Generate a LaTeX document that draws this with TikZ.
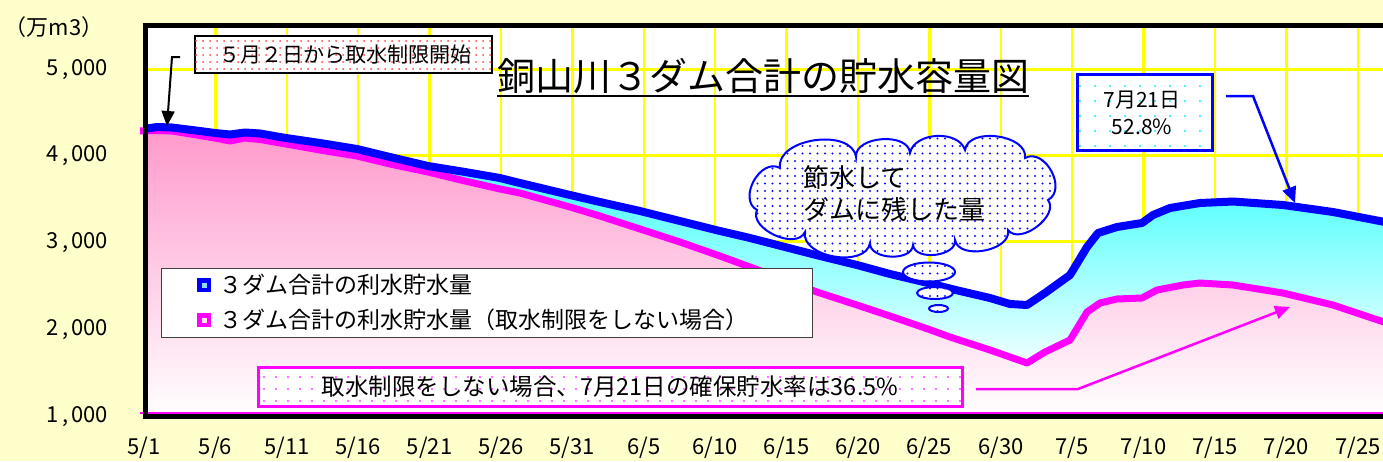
\documentclass[tikz,border=0pt]{standalone}
\usepackage{fontspec}
\setmainfont{Noto Sans CJK JP}
\usetikzlibrary{arrows.meta,patterns.meta,shapes.geometric}
\definecolor{bgyellow}{HTML}{FFFFCC}
\definecolor{gridyellow}{HTML}{FFFF00}
\definecolor{cyanfill}{HTML}{5EFFFF}
\definecolor{pinkfill}{HTML}{FF99CC}
\definecolor{serblue}{HTML}{0000FF}
\definecolor{sermag}{HTML}{FF00FF}
\definecolor{dotred}{HTML}{FF4444}
\definecolor{dotcyan}{HTML}{11EEFF}
\definecolor{dotmag}{HTML}{FF44FF}
\definecolor{dotblue}{HTML}{1111EE}
\begin{document}
\begin{tikzpicture}[x=1pt,y=-1pt,
  axislbl/.style={font=\fontsize{22}{26}\selectfont, inner sep=0pt},
  gridln/.style={draw=gridyellow, line width=2.5pt},
  bluecurve/.style={draw=serblue, line width=8pt, line join=round},
  magcurve/.style={draw=sermag, line width=7pt, line join=round},
  titletext/.style={font=\fontsize{38}{44}\selectfont, inner sep=0pt},
  boxtext/.style={font=\fontsize{21}{27}\selectfont, inner sep=0pt, align=center},
  legtext/.style={font=\fontsize{23}{27}\selectfont, inner sep=0pt},
  startbox/.style={draw=black, line width=2.5pt, fill=white, inner sep=0pt,
    postaction={pattern={Dots[distance=7pt,radius=1pt]}, pattern color=dotred}},
  datebox/.style={draw=serblue, line width=3pt, fill=white, inner sep=0pt,
    postaction={pattern={Dots[distance=15pt,radius=1.2pt]}, pattern color=dotcyan}},
  ratebox/.style={draw=sermag, line width=3pt, fill=white, inner sep=0pt,
    postaction={pattern={Dots[distance=12pt,radius=1.1pt]}, pattern color=dotmag}},
  bubble/.style={draw=serblue, line width=2pt, fill=white, inner sep=0pt,
    postaction={pattern={Dots[distance=7.5pt,radius=1.15pt]}, pattern color=dotblue}},
  puff/.style={bend left=90},
  marker/.style={minimum size=14pt, inner sep=0pt},
  markerin/.style={minimum size=5pt, inner sep=0pt},
  leader/.style={line width=2.5pt}
]
% background
\fill[bgyellow] (0,0) rectangle (1383,461);
\useasboundingbox (0,0) rectangle (1383,461);
% plot area
\fill[white] (145,25.8) rectangle (1390,416.7);
\foreach \k in {1,...,17} \draw[gridln] ({144+71.4*\k},28) -- ({144+71.4*\k},414);
\foreach \yy in {69.5,155.5,241.5,327.5} \draw[gridln] (148,\yy) -- (1390,\yy);

% series areas
\def\bluepts{(144,129) (157,127) (172,127.5) (200,131) (215,133) (230,134.5) (245,132.5) (260,133.5) (286,138) (320,143) (357,149) (390,157) (428,166) (465,172) (500,178) (520,183) (570,195) (600,202) (640,211) (680,221) (720,231) (750,238) (785,247) (820,256) (857,265) (890,274) (928,283) (960,291) (990,298) (1010,304) (1027,305) (1045,293) (1070,275) (1087,247) (1098,233) (1117,227) (1142,223) (1153,215) (1170,208) (1200,203) (1233,201.5) (1283,205) (1333,212) (1390,223)}
\def\magpts{(140,131) (157,130.5) (172,131) (200,135.5) (215,138) (230,141) (245,138) (260,139.5) (286,144) (320,150) (357,156) (390,164) (428,172) (465,181) (500,189) (520,193) (570,207) (600,216) (640,229) (680,242) (720,256) (750,267) (785,280) (817,292) (857,305) (890,316) (928,329) (950,337) (990,350) (1010,357) (1027,363) (1045,352) (1070,340) (1087,312) (1100,303) (1117,299) (1142,298) (1157,290) (1183,285) (1200,283) (1233,285) (1283,293) (1333,305) (1390,324)}
\begin{scope}
  \clip (148,28) rectangle (1390,414);
  \begin{scope}
    \clip (144,416) -- plot coordinates {\bluepts} -- (1390,416) -- cycle;
    \shade[top color=cyanfill, bottom color=white] (140,200) rectangle (1390,380);
    \fill[cyanfill] (140,100) rectangle (1390,200.5);
  \end{scope}
  \begin{scope}
    \clip (140,416) -- plot coordinates {\magpts} -- (1390,416) -- cycle;
    \shade[top color=pinkfill, bottom color=white] (140,128) rectangle (1390,416);
  \end{scope}
\end{scope}
\draw[sermag, line width=2pt] (140,413.3) -- (1390,413.3);
\draw[magcurve] plot coordinates {\magpts};
\draw[bluecurve] plot coordinates {\bluepts};

% plot border
\draw[line width=5pt, line join=miter] (1390,25.8) -- (145,25.8) -- (145,416.7) -- (1390,416.7);

% axis labels
\node[axislbl] (unit) at (54,27) {（万m3）};
\node[axislbl, anchor=east] (y5) at (108,70) {5\kern3pt,\kern3pt000};
\node[axislbl, anchor=east] (y4) at (108,156) {4\kern3pt,\kern3pt000};
\node[axislbl, anchor=east] (y3) at (108,243) {3\kern3pt,\kern3pt000};
\node[axislbl, anchor=east] (y2) at (108,330) {2\kern3pt,\kern3pt000};
\node[axislbl, anchor=east] (y1) at (108,417) {1\kern3pt,\kern3pt000};
\foreach \t [count=\i from 0] in {{5/1},{5/6},{5/11},{5/16},{5/21},{5/26},{5/31},{6/5},{6/10},{6/15},{6/20},{6/25},{6/30},{7/5},{7/10},{7/15},{7/20},{7/25}}
  \node[axislbl] (xl\i) at ({144+71.4*\i},448) {\t};

% title
\node[titletext, anchor=base west] (title) at (497,90) {銅山川３ダム合計の貯水容量図};
\draw[line width=2.5pt] ([yshift=-6pt]title.base west) -- ([yshift=-6pt]title.base east);

% start note
\node[startbox, minimum width=297pt, minimum height=37pt] (startnote) at (343.5,54.5) {};
\node[boxtext] (startnotetext) at (345,54.5) {５月２日から取水制限開始};
\coordinate (a1s) at (180,57);
\coordinate (a1k) at (172,57);
\coordinate (a1t) at (167,126);
\draw[line width=2pt, -{Triangle[length=15pt,width=13pt]}] (a1s) -- (a1k) -- (a1t);

% date note
\node[datebox, minimum width=135pt, minimum height=76pt] (datenote) at (1144.5,112) {};
\node[boxtext] (datenotetext) at (1142,112.5) {7月21日\\52.8\%};
\coordinate (a2s) at (1226,96);
\coordinate (a2k) at (1253,96);
\coordinate (a2t) at (1295,203);
\draw[serblue, leader, -{Triangle[length=16pt,width=14pt]}] (a2s) -- (a2k) -- (a2t);

% thought cloud
\draw[bubble] (780,168) to[puff] (856,157) to[puff] (910,153) to[bend left=75] (965,150)
  to[puff] (1025,158) to[puff, looseness=1.2] (1048,200) to[puff] (1008,230)
  to[puff] (955,240) to[puff] (913,245) to[puff] (870,243) to[puff] (805,232)
  to[puff] (757,210) to[puff, looseness=1.2] (780,168) -- cycle;
\node[font=\fontsize{26}{32}\selectfont, inner sep=0pt, align=left, anchor=west] (cloudtext) at (803,194) {節水して\\ダムに残した量};
\node[bubble, ellipse, minimum width=52pt, minimum height=19pt] (bub1) at (929,272) {};
\node[bubble, ellipse, minimum width=36pt, minimum height=12pt] (bub2) at (935,293) {};
\node[bubble, ellipse, minimum width=19pt, minimum height=7pt] (bub3) at (938.5,308.5) {};

% legend
\node[draw=black!75, line width=1.2pt, fill=white, inner sep=0pt, anchor=north west,
  minimum width=651pt, minimum height=69pt] (legend) at (161,268) {};
\node[marker, fill=serblue] (mk1) at (204,285) {};
\node[markerin, fill=cyan!45] (mk1c) at (204,285) {};
\node[legtext, anchor=west] (lt1) at (219,285) {３ダム合計の利水貯水量};
\node[marker, fill=sermag] (mk2) at (204,320) {};
\node[markerin, fill=pink!40] (mk2c) at (204,320) {};
\node[legtext, anchor=west] (lt2) at (219,320) {３ダム合計の利水貯水量（取水制限をしない場合）};

% rate note
\node[ratebox, minimum width=704pt, minimum height=39pt] (ratenote) at (610,386.5) {};
\node[boxtext, font=\fontsize{23.5}{27}\selectfont] (ratenotetext) at (610,386.5) {取水制限をしない場合、7月21日の確保貯水率は36.5\%};
\coordinate (a3s) at (976,389);
\coordinate (a3k) at (1078,389);
\coordinate (a3t) at (1290,307);
\draw[sermag, leader, -{Triangle[length=15pt,width=13pt]}] (a3s) -- (a3k) -- (a3t);
\end{tikzpicture}
\end{document}
